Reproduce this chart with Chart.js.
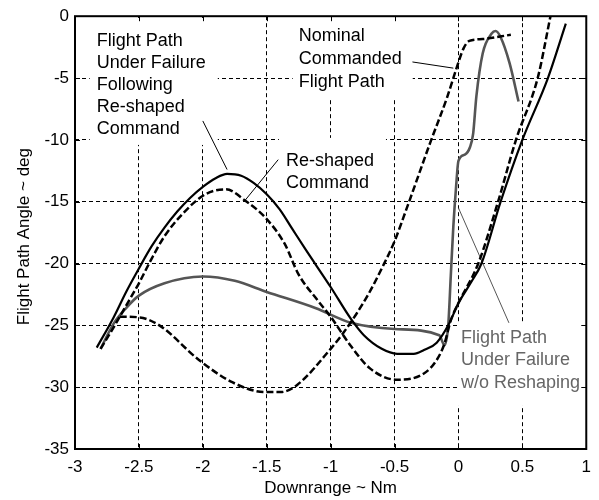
<!DOCTYPE html>
<html>
<head>
<meta charset="utf-8">
<script src="https://cdn.jsdelivr.net/npm/chart.js@4"></script>
<style>
  body { margin: 0; background: #fff; }
  #wrap { width: 599px; height: 500px; }
</style>
</head>
<body>
<div id="wrap"><canvas id="fpaChart"></canvas></div>
<script>
// Flight path angle vs downrange
var xTicks = [-3, -2.5, -2, -1.5, -1, -0.5, 0, 0.5, 1];
var yTicks = [-35, -30, -25, -20, -15, -10, -5, 0];

// Nominal commanded flight path (dashed)
var nominalX = [-2.65, -2.5, -2.34, -2.03, -1.77, -1.51, -1.39, -1.26, -1.0, -0.9, -0.8, -0.7, -0.6, -0.5, -0.4, -0.22, -0.09, -0.015, 0.04, 0.085, 0.19, 0.41];
var nominalY = [-24.3, -24.35, -25.0, -27.8, -29.6, -30.4, -30.4, -29.8, -26.9, -25.6, -24.1, -22.4, -20.4, -18.2, -15.4, -10.2, -6.6, -4.2, -2.6, -2.0, -1.85, -1.5];

// Re-shaped command (dashed)
var reshapedX = [-2.8, -2.7, -2.6, -2.5, -2.4, -2.3, -2.16, -1.98, -1.82, -1.67, -1.51, -1.36, -1.25, -1.1, -1.0, -0.84, -0.69, -0.48, -0.27, -0.17, -0.11, -0.06, 0.0, 0.155, 0.31, 0.45, 0.62, 0.72];
var reshapedY = [-26.9, -25.2, -23.4, -21.6, -19.6, -17.8, -16.0, -14.4, -14.0, -14.9, -16.3, -18.4, -20.9, -23.0, -24.3, -26.7, -28.5, -29.4, -28.9, -27.8, -26.5, -24.6, -23.2, -20, -15, -10, -5, 0];

// Flight path under failure following re-shaped command (solid)
var followX = [-2.83, -2.7, -2.6, -2.5, -2.4, -2.3, -2.2, -2.1, -2.0, -1.9, -1.81, -1.7, -1.6, -1.5, -1.4, -1.3, -1.2, -1.0, -0.84, -0.74, -0.6, -0.48, -0.35, -0.27, -0.17, -0.08, 0.0, 0.1, 0.18, 0.33, 0.5, 0.7, 0.84];
var followY = [-26.8, -24.4, -22.3, -20.4, -18.6, -17.1, -15.8, -14.7, -13.8, -13.1, -12.75, -12.9, -13.5, -14.4, -15.6, -17.2, -18.8, -21.9, -24.5, -25.8, -26.9, -27.3, -27.3, -27.0, -26.4, -25.0, -23.2, -21.5, -20, -15, -10, -5, -0.6];

// Flight path under failure w/o reshaping (grey)
var failX = [-2.8, -2.7, -2.6, -2.5, -2.3, -2.0, -1.75, -1.5, -1.12, -0.84, -0.5, -0.15, -0.11, -0.08, -0.06, -0.04, -0.02, 0.0, 0.05, 0.09, 0.115, 0.14, 0.19, 0.26, 0.29, 0.33, 0.4, 0.47];
var failY = [-26.9, -24.9, -23.6, -22.6, -21.6, -21.05, -21.4, -22.3, -23.6, -24.8, -25.3, -25.8, -26.6, -25.0, -21.0, -17.0, -14.0, -11.7, -11.2, -10.6, -9.5, -6.5, -3.0, -1.4, -1.2, -1.7, -3.8, -6.9];

function pts(xs, ys) {
    return xs.map(function (v, i) { return {x: v, y: ys[i]}; });
}

var FONT = '"Liberation Sans", Arial, sans-serif';

// text callouts, anchored in data units
var callouts = [
    {x: -2.83, y: -2.0, lh: 22, color: '#000', pad: [12, 12, 5, 7],
     lines: ['Flight Path', 'Under Failure', 'Following', 'Re-shaped', 'Command'],
     from: [-2.0, -8.47], to: [-1.81, -12.4]},
    {x: -1.35, y: -11.7, lh: 22, color: '#000', pad: [12, 12, 5, 7],
     lines: ['Re-shaped', 'Command'],
     from: [-1.41, -11.6], to: [-1.67, -14.9]},
    {x: -1.25, y: -1.6, lh: 23, color: '#000', pad: [12, 11, 5, 6],
     lines: ['Nominal', 'Commanded', 'Flight Path'],
     from: [-0.36, -3.7], to: [-0.04, -4.2]},
    {x: 0.02, y: -26.0, lh: 22.5, color: '#666', pad: [4, 4, 12, 4],
     lines: ['Flight Path', 'Under Failure', 'w/o Reshaping'],
     from: [0.0, -15.5], to: [0.395, -24.8]}
];

var decor = {
    id: 'decor',
    beforeDatasetsDraw: function (chart) {
        var ctx = chart.ctx, x = chart.scales.x, y = chart.scales.y, a = chart.chartArea;
        ctx.save();
        ctx.beginPath();
        ctx.rect(a.left, a.top, a.right - a.left, a.bottom - a.top);
        ctx.clip();
        ctx.font = '18px ' + FONT;
        ctx.textBaseline = 'middle';
        callouts.forEach(function (c) {
            var px = x.getPixelForValue(c.x), py = y.getPixelForValue(c.y);
            var w = Math.max.apply(null, c.lines.map(function (s) { return ctx.measureText(s).width; }));
            var top = py - 11, bottom = py + (c.lines.length - 1) * c.lh + 11;
            ctx.fillStyle = '#fff';
            ctx.fillRect(px - c.pad[3], top - c.pad[0], w + c.pad[3] + c.pad[1], bottom - top + c.pad[0] + c.pad[2]);
            ctx.fillStyle = c.color;
            c.lines.forEach(function (s, i) { ctx.fillText(s, px, py + i * c.lh); });
            ctx.strokeStyle = c.color === '#000' ? '#000' : '#555';
            ctx.lineWidth = 1;
            ctx.beginPath();
            ctx.moveTo(x.getPixelForValue(c.from[0]), y.getPixelForValue(c.from[1]));
            ctx.lineTo(x.getPixelForValue(c.to[0]), y.getPixelForValue(c.to[1]));
            ctx.stroke();
        });
        ctx.restore();
    },
    afterDraw: function (chart) {
        var ctx = chart.ctx, x = chart.scales.x, y = chart.scales.y, a = chart.chartArea;
        ctx.save();
        ctx.strokeStyle = '#000';
        ctx.lineWidth = 1;
        // inward tick marks on all four sides
        xTicks.forEach(function (v) {
            var p = Math.round(x.getPixelForValue(v)) + 0.5;
            ctx.beginPath();
            ctx.moveTo(p, a.bottom); ctx.lineTo(p, a.bottom - 5);
            ctx.moveTo(p, a.top); ctx.lineTo(p, a.top + 5);
            ctx.stroke();
        });
        yTicks.forEach(function (v) {
            var p = Math.round(y.getPixelForValue(v)) + 0.5;
            ctx.beginPath();
            ctx.moveTo(a.left, p); ctx.lineTo(a.left + 5, p);
            ctx.moveTo(a.right, p); ctx.lineTo(a.right - 5, p);
            ctx.stroke();
        });
        // frame
        ctx.lineWidth = 2;
        ctx.strokeRect(a.left, a.top, a.right - a.left, a.bottom - a.top);
        // axis titles
        ctx.fillStyle = '#000';
        ctx.font = '17px ' + FONT;
        ctx.textAlign = 'center';
        ctx.textBaseline = 'middle';
        ctx.fillText('Downrange ~ Nm', (a.left + a.right) / 2, 488);
        ctx.translate(24, (a.top + a.bottom) / 2 + 4);
        ctx.rotate(-Math.PI / 2);
        ctx.fillText('Flight Path Angle ~ deg', 0, 0);
        ctx.restore();
    }
};

var ctx = document.getElementById('fpaChart').getContext('2d');
var fpaChart = new Chart(ctx, {
    type: 'scatter',
    data: {
        datasets: [{
            label: 'Nominal Commanded Flight Path',
            data: pts(nominalX, nominalY),
            borderColor: '#000',
            borderWidth: 2.5,
            borderDash: [7, 3]
        }, {
            label: 'Re-shaped Command',
            data: pts(reshapedX, reshapedY),
            borderColor: '#000',
            borderWidth: 2.5,
            borderDash: [7, 3]
        }, {
            label: 'Flight Path Under Failure Following Re-shaped Command',
            data: pts(followX, followY),
            borderColor: '#000',
            borderWidth: 2.2
        }, {
            label: 'Flight Path Under Failure w/o Reshaping',
            data: pts(failX, failY),
            borderColor: '#555',
            borderWidth: 2.6
        }]
    },
    options: {
        responsive: true,
        maintainAspectRatio: false,
        animation: false,
        showLine: true,
        layout: {padding: {left: 0, right: 8, top: 15, bottom: 0}},
        elements: {
            point: {radius: 0, hoverRadius: 0},
            line: {cubicInterpolationMode: 'monotone', fill: false}
        },
        plugins: {
            legend: {display: false},
            tooltip: {enabled: false}
        },
        scales: {
            x: {
                type: 'linear',
                min: -3, max: 1,
                afterBuildTicks: function (s) { s.ticks = xTicks.map(function (v) { return {value: v}; }); },
                afterFit: function (s) { s.height = 51; },
                border: {display: false, dash: [4, 3]},
                grid: {
                    drawTicks: false,
                    color: function (c) { return (c.tick && (c.tick.value === -3 || c.tick.value === 1)) ? 'rgba(0,0,0,0)' : '#000'; },
                    lineWidth: 1
                },
                ticks: {
                    padding: 8,
                    color: '#000',
                    font: {size: 17, family: FONT},
                    maxRotation: 0,
                    callback: function (v) { return String(v); }
                }
            },
            y: {
                type: 'linear',
                min: -35, max: 0,
                afterBuildTicks: function (s) { s.ticks = yTicks.map(function (v) { return {value: v}; }); },
                afterFit: function (s) { s.width = 75; },
                border: {display: false, dash: [4, 3]},
                grid: {
                    drawTicks: false,
                    color: function (c) { return (c.tick && (c.tick.value === -35 || c.tick.value === 0)) ? 'rgba(0,0,0,0)' : '#000'; },
                    lineWidth: 1
                },
                ticks: {
                    padding: 6,
                    color: '#000',
                    font: {size: 17, family: FONT},
                    callback: function (v) { return String(v); }
                }
            }
        }
    },
    plugins: [decor]
});
</script>
</body>
</html>
